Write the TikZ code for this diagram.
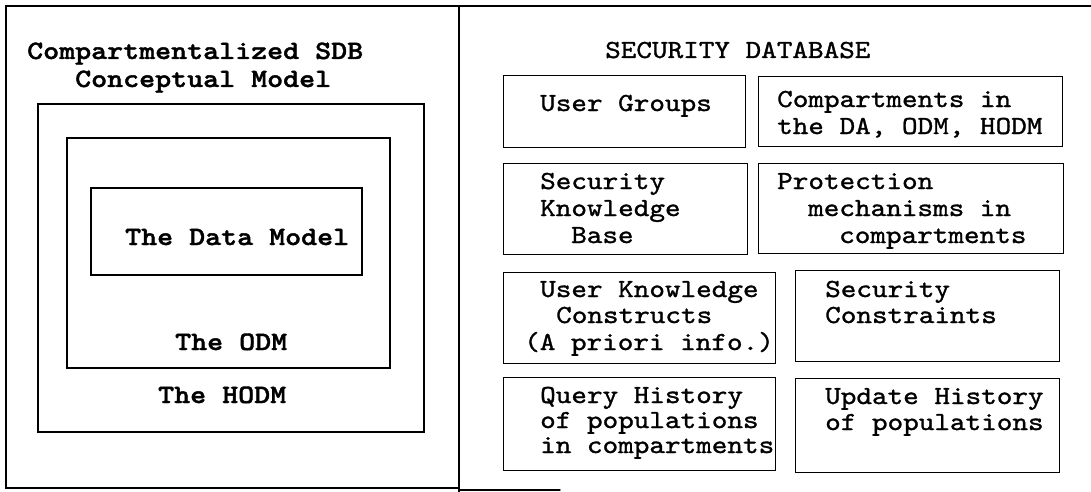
\documentclass[tikz,border=0pt]{standalone}
\usepackage{fontspec}
\newfontfamily\rtt[FakeStretch=1.143,FakeBold=1.2]{lmmono10-regular.otf}
\newfontfamily\ltt[FakeStretch=1.15,FakeBold=1.5]{lmmonolt10-bold.otf}
\begin{document}
\begin{tikzpicture}[x=1pt,y=-1pt,
  frame/.style={line width=1.4pt, line cap=round},
  lbox/.style={draw, line width=1.9pt, rectangle, inner sep=0pt, anchor=north west},
  rbox/.style={draw, line width=1.4pt, rectangle, inner sep=0pt, anchor=north west},
  ltxt/.style={anchor=base west, inner sep=0pt, font=\ltt\fontsize{26.5}{27}\selectfont},
  rtxt/.style={anchor=base west, inner sep=0pt, font=\rtt\fontsize{26}{26}\selectfont}]
\useasboundingbox (0,0) rectangle (1091,492);
% outer frame
\coordinate (tr) at (1091,6);
\coordinate (tl) at (6,6);
\coordinate (bl) at (6,488);
\coordinate (bm) at (459,488);
\coordinate (bm2) at (459,490);
\coordinate (br) at (560,490);
\coordinate (dtop) at (459,6);
\coordinate (dbot) at (459,492);
\draw[frame] (tr) -- (tl) -- (bl) -- (bm);
\draw[frame] (bm2) -- (br);
\draw[frame] (dtop) -- (dbot);
% left panel
\node[ltxt] (t1) at (27,59) {Compartmentalized SDB};
\node[ltxt] (t2) at (75,87) {Conceptual Model};
\node[lbox, minimum width=386pt, minimum height=328pt] (hodm) at (37,103) {};
\node[lbox, minimum width=323pt, minimum height=230pt] (odm) at (66,137) {};
\node[lbox, minimum width=271pt, minimum height=87pt] (dm) at (90,187) {};
\node[ltxt] (tdm) at (125,245) {The Data Model};
\node[ltxt] (todm) at (175,350) {The ODM};
\node[ltxt] (thodm) at (158,403) {The HODM};
% right panel
\node[rtxt] (sdb) at (605,58) {SECURITY DATABASE};
\node[rbox, minimum width=242pt, minimum height=72pt] (ug) at (503,75) {};
\node[rtxt] (ug1) at (540,111) {User Groups};
\node[rbox, minimum width=304pt, minimum height=70pt] (comp) at (758,76) {};
\node[rtxt] (comp1) at (777,107) {Compartments in};
\node[rtxt] (comp2) at (777,134) {the DA, ODM, HODM};
\node[rbox, minimum width=244pt, minimum height=91pt] (skb) at (503,163) {};
\node[rtxt] (skb1) at (540,189) {Security};
\node[rtxt] (skb2) at (540,216) {Knowledge};
\node[rtxt] (skb3) at (571,243) {Base};
\node[rbox, minimum width=305pt, minimum height=90pt] (prot) at (758,163) {};
\node[rtxt] (prot1) at (777,189) {Protection};
\node[rtxt] (prot2) at (808,216) {mechanisms in};
\node[rtxt] (prot3) at (839,243) {compartments};
\node[rbox, minimum width=272pt, minimum height=91pt] (ukc) at (503,272) {};
\node[rtxt] (ukc1) at (540,297) {User Knowledge};
\node[rtxt] (ukc2) at (556,323) {Constructs};
\node[rtxt] (ukc3) at (524,350) {(A priori info.)};
\node[rbox, minimum width=264pt, minimum height=91pt] (sc) at (795,270) {};
\node[rtxt] (sc1) at (825,297) {Security};
\node[rtxt] (sc2) at (825,323) {Constraints};
\node[rbox, minimum width=272pt, minimum height=93pt] (qh) at (503,377) {};
\node[rtxt] (qh1) at (540,403) {Query History};
\node[rtxt] (qh2) at (540,428) {of populations};
\node[rtxt] (qh3) at (540,453) {in compartments};
\node[rbox, minimum width=264pt, minimum height=94pt] (uh) at (795,378) {};
\node[rtxt] (uh1) at (825,404) {Update History};
\node[rtxt] (uh2) at (825,430) {of populations};
\end{tikzpicture}
\end{document}
